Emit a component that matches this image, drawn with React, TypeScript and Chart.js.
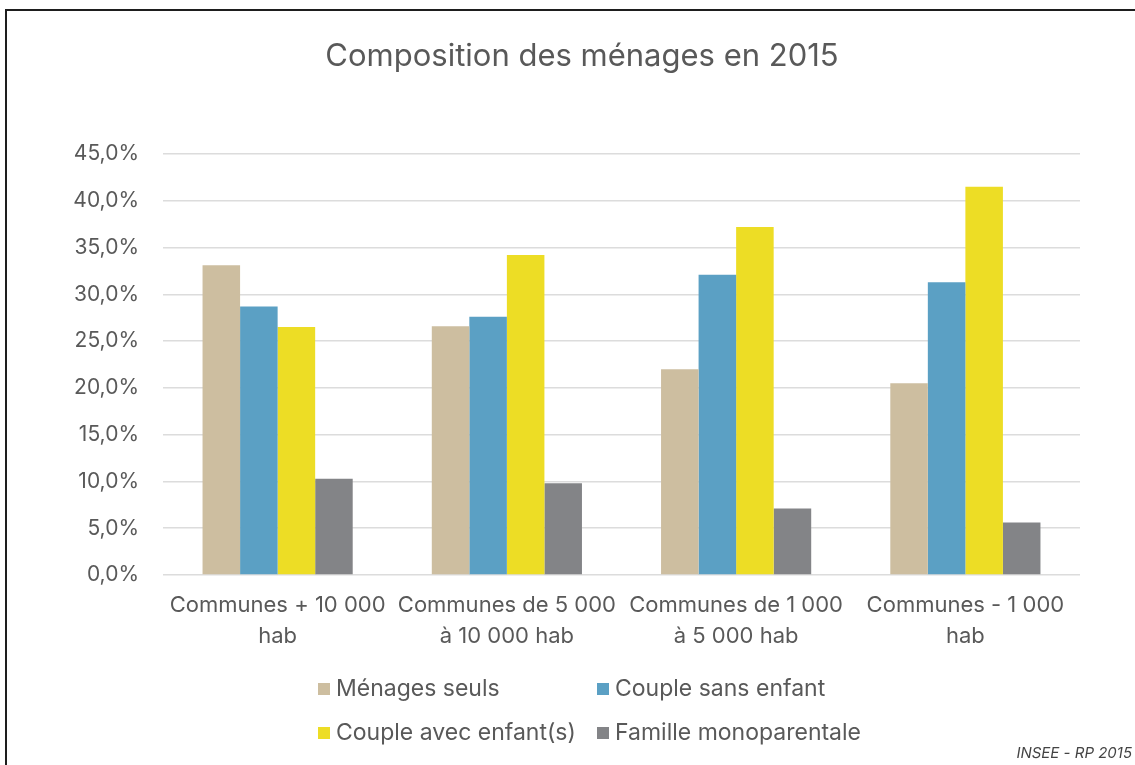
import React, { useEffect, useRef } from "react";
import { Chart, registerables } from "chart.js";

Chart.register(...registerables);

const categories: string[][] = [
  ["Communes + 10 000", "hab"],
  ["Communes de 5 000", "à 10 000 hab"],
  ["Communes de 1 000", "à 5 000 hab"],
  ["Communes - 1 000", "hab"],
];

const seriesNames = ["Ménages seuls", "Couple sans enfant", "Couple avec enfant(s)", "Famille monoparentale"];
const seriesColors = ["#CDBEA0", "#5BA0C4", "#EDDD25", "#838487"];

const menagesSeuls = [33.1, 26.6, 22.0, 20.5];
const coupleSansEnfant = [28.7, 27.6, 32.1, 31.3];
const coupleAvecEnfants = [26.5, 34.2, 37.2, 41.5];
const familleMonoparentale = [10.3, 9.8, 7.1, 5.6];

const seriesValues = [menagesSeuls, coupleSansEnfant, coupleAvecEnfants, familleMonoparentale];

const titleText = "Composition des ménages en 2015";
const sourceText = "INSEE - RP 2015";

const FONT = "Inter, 'Noto Sans', sans-serif";
const TEXT = "#595959";

const framePlugin = {
  id: "frame",
  beforeDraw(chart: any) {
    const { ctx, width, height } = chart;
    ctx.save();
    ctx.fillStyle = "#ffffff";
    ctx.fillRect(0, 0, width, height);
    ctx.strokeStyle = "#1e1e1e";
    ctx.lineWidth = 2;
    ctx.beginPath();
    ctx.moveTo(width, 10);
    ctx.lineTo(6, 10);
    ctx.lineTo(6, height);
    ctx.stroke();
    ctx.restore();
  },
};

const legendPlugin = {
  id: "gridLegend",
  afterDraw(chart: any) {
    const { ctx } = chart;
    // title
    ctx.save();
    ctx.font = `31px ${FONT}`;
    ctx.fillStyle = TEXT;
    ctx.textAlign = "center";
    ctx.textBaseline = "middle";
    ctx.fillText(titleText, 582, 57);
    // legend
    const cols = [318, 597];
    const rows = [689, 733];
    ctx.font = `23px ${FONT}`;
    ctx.textAlign = "left";
    chart.data.datasets.forEach((ds: any, i: number) => {
      const x = cols[i % 2];
      const y = rows[Math.floor(i / 2)];
      ctx.fillStyle = ds.backgroundColor;
      ctx.fillRect(x, y - 6, 12, 12);
      ctx.fillStyle = TEXT;
      ctx.fillText(ds.label, x + 18, y);
    });
    ctx.font = `italic 15px ${FONT}`;
    ctx.fillStyle = "#444444";
    ctx.textAlign = "right";
    ctx.fillText(sourceText, 1132, 753);
    ctx.restore();
  },
};

export default function App() {
  const ref = useRef<HTMLCanvasElement>(null);

  useEffect(() => {
    if (!ref.current) return;
    const chart = new Chart(ref.current, {
      type: "bar",
      data: {
        labels: categories as any,
        datasets: seriesNames.map((name, i) => ({
          label: name,
          data: seriesValues[i],
          backgroundColor: seriesColors[i],
          borderWidth: 0,
          categoryPercentage: 0.655,
          barPercentage: 1,
        })),
      },
      options: {
        animation: false,
        responsive: false,
        maintainAspectRatio: false,
        layout: { padding: { left: 0, right: 55, top: 154, bottom: 0 } },
        plugins: {
          legend: { display: false },
          tooltip: { enabled: false },
          title: { display: false },
        },
        scales: {
          x: {
            grid: { display: false },
            border: { display: false },
            ticks: {
              color: TEXT,
              font: { family: FONT, size: 22, lineHeight: 1.45 },
              padding: 6,
              maxRotation: 0,
              autoSkip: false,
            },
            afterFit(scale: any) {
              scale.height = 190;
            },
          },
          y: {
            min: 0,
            max: 45,
            border: { display: false },
            grid: { color: "#dcdcdc", lineWidth: 1.6, drawTicks: false },
            ticks: {
              stepSize: 5,
              color: TEXT,
              padding: 24,
              font: { family: FONT, size: 21 },
              callback: (v: any) => Number(v).toFixed(1).replace(".", ",") + "%",
            },
            afterFit(scale: any) {
              scale.width = 163;
            },
          },
        },
      },
      plugins: [framePlugin, legendPlugin],
    });
    return () => chart.destroy();
  }, []);

  return (
    <div style={{ position: "fixed", left: 0, top: 0, width: 1135, height: 765 }}>
      <canvas ref={ref} width={1135} height={765} style={{ width: 1135, height: 765 }} />
    </div>
  );
}
